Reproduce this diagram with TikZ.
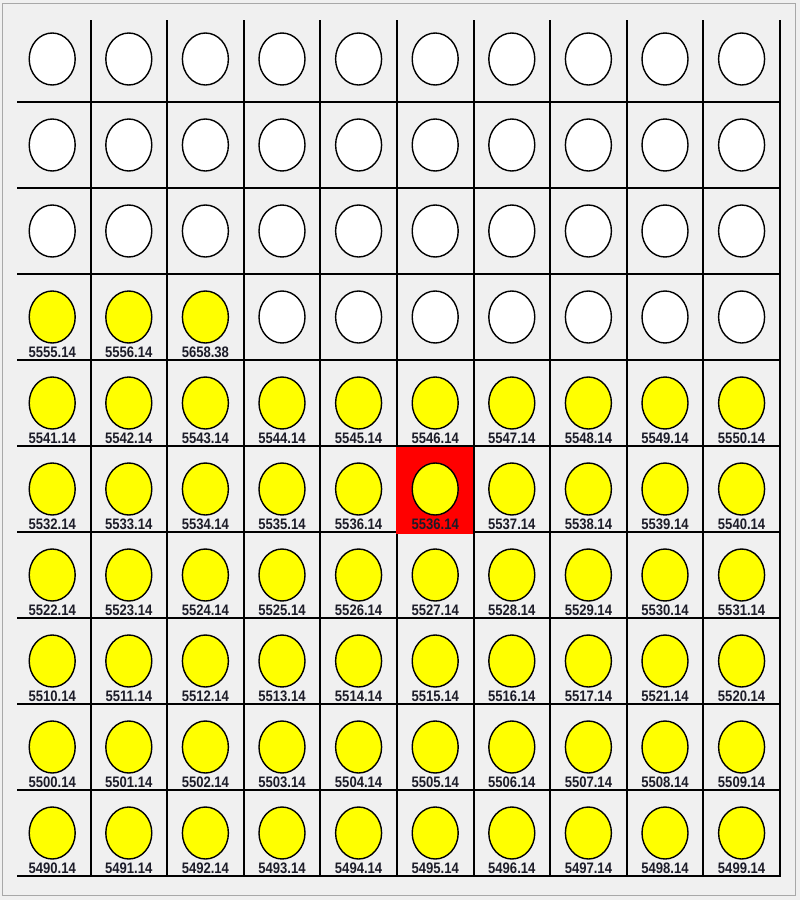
\documentclass[tikz,border=0pt]{standalone}
\usepackage{fontspec}
\setmainfont{Liberation Sans}
\usetikzlibrary{shapes.geometric}
\definecolor{panelbg}{HTML}{F0F0F0}
\definecolor{framegray}{HTML}{A8A8A8}
\definecolor{ledyellow}{HTML}{FFFF00}
\definecolor{lbltext}{HTML}{1C1C28}
\tikzset{
  gridline/.style={black, line width=2pt},
  bulb/.style={draw=black, ellipse, line width=1.4pt, minimum width=46pt, minimum height=52pt, inner sep=0pt},
  offbulb/.style={bulb, fill=white},
  onbulb/.style={bulb, fill=ledyellow},
  lbl/.style={anchor=base, inner sep=0pt, text=lbltext, font=\bfseries\fontsize{15.2}{16}\selectfont}
}
\newcommand\ledrow[2]{%
  \foreach \t [count=\c from 0] in {#2} {%
    \node[onbulb] (c-#1-\c) at ({52.2+76.6*\c},{59+86*#1}) {};
    \node[lbl] (l-#1-\c) at ({52.2+76.6*\c},{102+86*#1-2.5}) {\scalebox{0.86}[1]{\t}};
  }%
}
\begin{document}
\begin{tikzpicture}[x=1pt,y=-1pt]
\useasboundingbox (0,0) rectangle (800,900);
\fill[panelbg] (0,0) rectangle (800,900);
\draw[framegray, line width=1.2pt] (2.5,3.5) rectangle (795.5,895.5);
% grid
\foreach \k in {0,...,9} \draw[gridline] (17,{102+86*\k}) -- (781,{102+86*\k});
\foreach \k in {0,...,9} \draw[gridline] ({90.5+76.6*\k},20) -- ({90.5+76.6*\k},877);
% highlighted cell
\fill[red] (396,447) rectangle (472.5,533.5);
% unlit rows
\foreach \r in {0,1,2} \foreach \c in {0,...,9}
  \node[offbulb] (c-\r-\c) at ({52.2+76.6*\c},{59+86*\r}) {};
\foreach \c in {3,...,9}
  \node[offbulb] (c-3-\c) at ({52.2+76.6*\c},{59+86*3}) {};
% lit rows
\ledrow{3}{5555.14,5556.14,5658.38}
\ledrow{4}{5541.14,5542.14,5543.14,5544.14,5545.14,5546.14,5547.14,5548.14,5549.14,5550.14}
\ledrow{5}{5532.14,5533.14,5534.14,5535.14,5536.14,5536.14,5537.14,5538.14,5539.14,5540.14}
\ledrow{6}{5522.14,5523.14,5524.14,5525.14,5526.14,5527.14,5528.14,5529.14,5530.14,5531.14}
\ledrow{7}{5510.14,5511.14,5512.14,5513.14,5514.14,5515.14,5516.14,5517.14,5521.14,5520.14}
\ledrow{8}{5500.14,5501.14,5502.14,5503.14,5504.14,5505.14,5506.14,5507.14,5508.14,5509.14}
\ledrow{9}{5490.14,5491.14,5492.14,5493.14,5494.14,5495.14,5496.14,5497.14,5498.14,5499.14}
\end{tikzpicture}
\end{document}
